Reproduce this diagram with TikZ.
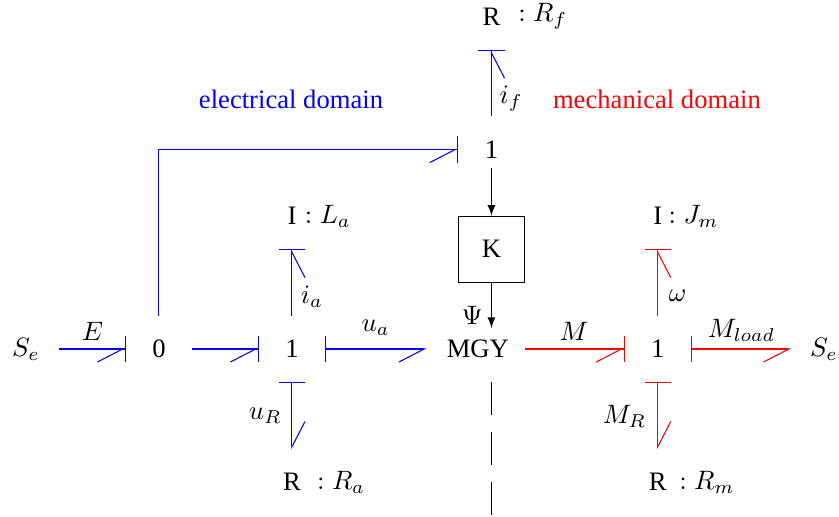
\documentclass[tikz,border=0pt]{standalone}
\usepackage{fontspec}
\setmainfont{Liberation Serif}
\usetikzlibrary{arrows.meta}
\tikzset{
    barend/.tip={Bar[width=9.8pt,sep=0pt]},
    hookr/.tip={Straight Barb[harpoon,swap,length=9.5pt,width=9.8pt,sep=0pt]},
    hookl/.tip={Straight Barb[harpoon,length=9.5pt,width=9.8pt,sep=0pt]},
    bond/.style={shorten <=12.4pt,shorten >=12.4pt},
    barat/.style={bond,-{hookr[]barend[]}},
    barfrom/.style={bond,{barend[]}-{hookr[]}},
    barfroml/.style={bond,{barend[]}-{hookl[]}},
    elec/.style={draw=blue,fill=none},
    mech/.style={draw=red,fill=none},
    signal/.style={-latex}
}
\begin{document}
\begin{tikzpicture}[x=1.755cm,y=1.755cm]
    \useasboundingbox (-1.195,-1.263) rectangle (5.113,2.624);
    % electrical side
    \node (sel) at (-1,0) {$S_e$};
    \node (zero) at (0,0) {0};
    \node (onea) at (1,0) {1};
    \node (ia) at (1,1) {I};
    \node (ra) at (1,-1) {R};
    \node (la) at (1.27,1) {$: L_a$};
    \node (rra) at (1.37,-1) {$: R_a$};
    \node (onef) at (2.5,1.5) {1};
    \node (rf) at (2.5,2.5) {R};
    \node (rrf) at (2.885,2.5) {$: R_f$};
    \node (mgy) at (2.398,0) {MGY};
    \node[draw,minimum size=24.8pt] (k) at (2.5,0.75) {K};
    \coordinate (psi) at (2.5,0.158);
    \coordinate (dasha) at (2.5,-0.25);
    \coordinate (dashb) at (2.5,-1.25);
    % mechanical side
    \node (onem) at (3.75,0) {1};
    \node (ser) at (5,0) {$S_e$};
    \node (im) at (3.75,1) {I};
    \node (rm) at (3.75,-1) {R};
    \node (jm) at (4.02,1) {$: J_m$};
    \node (rrm) at (4.12,-1) {$: R_m$};
    \node[blue] (eldom) at (0.993,1.877) {electrical domain};
    \node[red] (medom) at (3.744,1.877) {mechanical domain};
    % bonds
    \draw[elec,barat] (sel.center) -- (zero.center);
    \draw[elec,barat] (zero.center) -- (onea.center);
    \draw[elec,barat] (onea.center) -- (ia.center);
    \draw[elec,barfrom,shorten >=19.35pt] (onea.center) -- (mgy.center);
    \draw[elec,barfroml] (onea.center) -- (ra.center);
    \draw[elec,barat] (onef.center) -- (rf.center);
    \draw[elec,barat] (zero.center) |- (onef.center);
    \draw[mech,barat,shorten <=17.85pt] (mgy.center) -- (onem.center);
    \draw[mech,barfrom] (onem.center) -- (ser.center);
    \draw[mech,barat] (onem.center) -- (im.center);
    \draw[mech,barfroml] (onem.center) -- (rm.center);
    % signals
    \draw[signal] (onef) -- (k);
    \draw[signal] (k) -- (psi);
    \draw[dash pattern=on 12.4pt off 6.4pt] (dasha) -- (dashb);
    % labels
    \node (le) at (-0.5,0.135) {$E$};
    \node (lia) at (1.15,0.39) {$i_a$};
    \node (lua) at (1.63,0.16) {$u_a$};
    \node (lur) at (0.8,-0.5) {$u_R$};
    \node (lif) at (2.648,1.88) {$i_f$};
    \node (lm) at (3.12,0.135) {$M$};
    \node (lw) at (3.9,0.4) {$\omega$};
    \node (lml) at (4.38,0.14) {$M_{load}$};
    \node (lmr) at (3.5,-0.51) {$M_R$};
    \node (lpsi) at (2.355,0.25) {$\Psi$};
\end{tikzpicture}
\end{document}
